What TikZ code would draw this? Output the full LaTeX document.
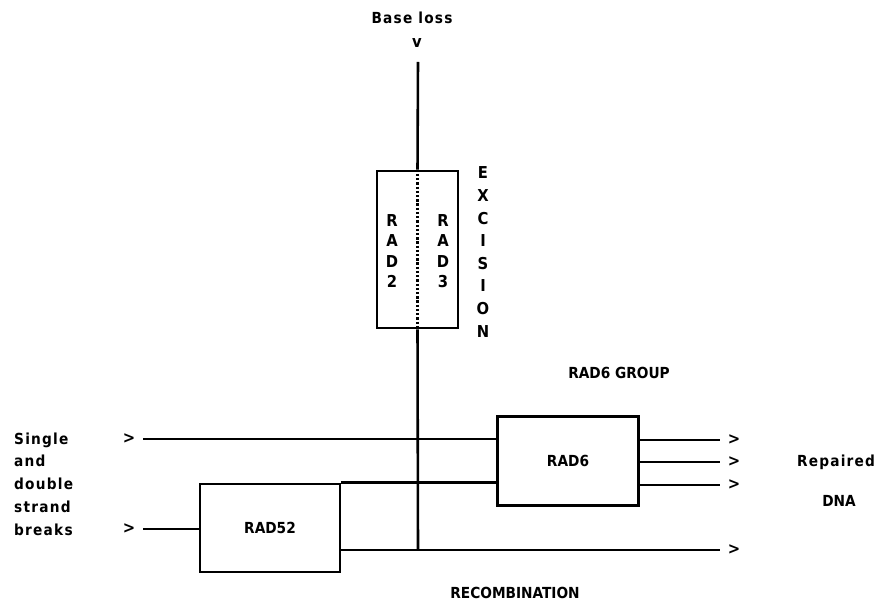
\documentclass[tikz,border=0pt]{standalone}
\usepackage{fontspec}
\setmainfont{DejaVu Sans Condensed}
\newfontfamily\spaced{DejaVu Sans Condensed}[LetterSpace=8]
\usetikzlibrary{positioning}
\begin{document}
\begin{tikzpicture}[x=0.03cm,y=-0.03cm]
          \tikzset{every node/.style={font=\bfseries\fontsize{13}{15}\selectfont,inner sep=0pt},
                   wide/.style={font=\spaced\bfseries\fontsize{13}{15}\selectfont},
                   wire/.style={line width=2.2pt},
                   genebox/.style={draw,line width=2.2pt},
                   tip/.style={font=\bfseries\fontsize{14}{16}\selectfont},
                   letters/.style={align=center,font=\bfseries\fontsize{14}{17.4}\selectfont}}
          \useasboundingbox (0,0) rectangle (878,601);
          %\node (name) at (x,y) {text};
          %\draw [option] ...
          % input side
          \node[wide] (baseloss) at (412,18) {Base loss};
          \node[tip] (vtip) at (417,43) {v};
          \node[tip] (in1) at (129,439) {>};
          \node[tip] (in2) at (129,529) {>};
          \node[anchor=west,align=left,font=\spaced\bfseries\fontsize{13}{19.4}\selectfont] (breaks) at (14,484)
               {Single\\and\\double\\strand\\breaks};
          % boxes
          \node[genebox,minimum width=81*0.03cm,minimum height=157*0.03cm] (exc) at (417.5,249.5) {};
          \node[letters] (rad2) at (392,251) {R\\A\\D\\2};
          \node[letters] (rad3) at (443,251) {R\\A\\D\\3};
          \node[letters,font=\bfseries\fontsize{14}{19.3}\selectfont] (excision) at (483,252) {E\\X\\C\\I\\S\\I\\O\\N};
          \node[genebox,minimum width=141*0.03cm,minimum height=89*0.03cm] (rad6) at (568,461) {RAD6};
          \node (group) at (619,373) {RAD6 GROUP};
          \node[genebox,minimum width=140*0.03cm,minimum height=88*0.03cm] (rad52) at (270,528) {RAD52};
          \node (recomb) at (515,593) {RECOMBINATION};
          % output side
          \node[tip] (out1) at (734,440) {>};
          \node[tip] (out2) at (734,462) {>};
          \node[tip] (out3) at (734,485) {>};
          \node[tip] (out4) at (734,550) {>};
          \node[wide] (repaired) at (836,462) {Repaired};
          \node (dna) at (839,501) {DNA};
          % junctions
          \coordinate (top) at (418,62);
          \coordinate (j1) at (418,550);
          \coordinate (e1) at (720,440);
          \coordinate (e2) at (720,462);
          \coordinate (e3) at (720,485);
          \coordinate (e4) at (720,550);
          \coordinate (s1) at (143,439);
          \coordinate (s2) at (143,529);
          % excision route
          \draw[wire] (top)--(exc.north);
          \draw[wire,dash pattern=on 2pt off 1.6pt] (exc.north)--(exc.south);
          \draw[wire] (exc.south)--(j1);
          % recombination route
          \draw[wire] (s1)--(s1-|rad6.west);
          \draw[wire] (s2)--(s2-|rad52.west);
          \draw[wire] (rad52.north east)--(rad52.north east-|rad6.west);
          \draw[wire] (rad52.east|-j1)--(e4);
          \draw[wire] (e1-|rad6.east)--(e1);
          \draw[wire] (e2-|rad6.east)--(e2);
          \draw[wire] (e3-|rad6.east)--(e3);
      \end{tikzpicture}
\end{document}
